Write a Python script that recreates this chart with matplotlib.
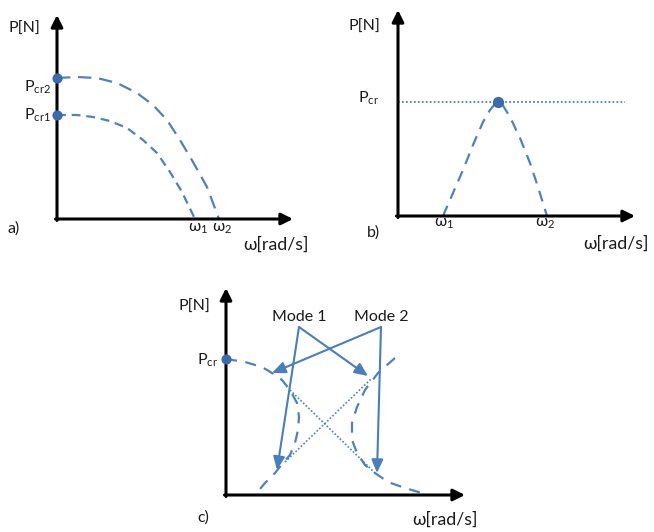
import matplotlib
matplotlib.use('Agg')
import matplotlib.pyplot as plt

plt.rcParams['font.family'] = ['Lato', 'DejaVu Sans']
plt.rcParams['mathtext.default'] = 'regular'

W, H = 654, 532
BLUE = '#4f81bd'
DOT = '#3d6aa8'

# panel a) -- P_cr vs omega for two rotors (units: pixels from axis origin)
a_outer_x = [0, 20, 40, 60, 80, 96, 110, 123, 136, 150, 162]
a_outer_y = [141, 142, 141, 136, 126, 114, 99, 79, 57, 32, 0]
a_inner_x = [0, 20, 36, 53, 70, 86, 100, 113, 125, 138]
a_inner_y = [104, 104, 102, 98, 91, 79, 66, 47, 27, 0]
a_pcr = [141, 104]

# panel b) -- single peak
b_x = [45, 55, 65, 75, 85, 92, 97, 100, 104, 112, 122, 132, 140, 149]
b_y = [0, 23, 46, 71, 94, 106, 112, 114, 112, 99, 78, 53, 29, 0]
b_pcr = 114
b_pcr_x = 100

# panel c) -- mode veering / crossing
c_m1_x = [0, 19, 36, 46, 56, 64, 71, 73, 72, 69, 64, 57, 49, 39, 29]
c_m1_y = [136, 133, 128, 122, 115, 105, 92, 78, 65, 52, 40, 32, 22, 12, 0]
c_m2_x = [169, 152, 139, 131, 126, 126, 131, 139, 149, 162, 179, 196, 200]
c_m2_y = [137, 122, 105, 88, 72, 55, 42, 30, 22, 13, 7, 2, 0]
c_cross1 = ([64, 149], [105, 22])
c_cross2 = ([59, 146], [33, 117])
c_pcr = 136
mode_labels = ['Mode 1', 'Mode 2']
mode_apex = [(73, 168), (155, 168)]
mode_tips = [[(51, 25), (142, 119)], [(46, 122), (151, 22)]]

fig = plt.figure(figsize=(W / 100, H / 100), dpi=100)


def make_axes(ox, oy, w, h):
    ax = fig.add_axes([ox / W, (H - oy) / H, w / W, h / H])
    ax.set_xlim(0, w)
    ax.set_ylim(0, h)
    ax.axis('off')
    kw = dict(arrowstyle='-|>,head_length=0.7,head_width=0.35', color='black',
              lw=2.2, shrinkA=0, shrinkB=0)
    ax.annotate('', xy=(w, 0), xytext=(-1.5, 0), arrowprops=kw, annotation_clip=False)
    ax.annotate('', xy=(0, h), xytext=(0, -1.5), arrowprops=kw, annotation_clip=False)
    return ax


fs = 11.5
txt = dict(fontsize=fs, color='#1a1a1a', clip_on=False)
wtxt = dict(fontsize=12.8, color='#1a1a1a', clip_on=False)

# ---- a)
ax = make_axes(57, 219, 236, 204)
ax.plot(a_outer_x, a_outer_y, color=BLUE, lw=1.6, dashes=(6, 3.5), clip_on=False)
ax.plot(a_inner_x, a_inner_y, color=BLUE, lw=1.6, dashes=(4, 2.6), clip_on=False)
ax.scatter([0, 0], a_pcr, s=40, color=DOT, zorder=5, clip_on=False)
ax.text(-49, 190, 'P[N]', ha='left', va='center', **txt)
ax.text(-6, 127, '$P_{cr2}$', ha='right', va='baseline', **txt)
ax.text(-6, 99, '$P_{cr1}$', ha='right', va='baseline', **txt)
ax.text(-49, -10, 'a)', ha='left', va='center', **txt)
ax.text(141, -10, '$ω_1$', ha='center', va='center', **txt)
ax.text(165, -10, '$ω_2$', ha='center', va='center', **txt)
ax.text(186, -26, 'ω[rad/s]', ha='left', va='center', **wtxt)

# ---- b)
ax = make_axes(398, 216, 237, 206)
ax.plot([0, 227], [b_pcr, b_pcr], color=BLUE, lw=1.3, dashes=(1, 1.2), clip_on=False)
ax.plot(b_x, b_y, color=BLUE, lw=1.6, dashes=(5, 3.5), clip_on=False)
ax.scatter([b_pcr_x], [b_pcr], s=50, color=DOT, zorder=5, clip_on=False)
ax.text(-50, 189, 'P[N]', ha='left', va='center', **txt)
ax.text(-40, 113, '$P_{cr}$', ha='left', va='baseline', **txt)
ax.text(46, -8, '$ω_1$', ha='center', va='center', **txt)
ax.text(147, -8, '$ω_2$', ha='center', va='center', **txt)
ax.text(-31, -17, 'b)', ha='left', va='center', **txt)
ax.text(185, -28, 'ω[rad/s]', ha='left', va='center', **wtxt)

# ---- c)
ax = make_axes(226, 495, 239, 207)
ax.plot(c_m1_x, c_m1_y, color=BLUE, lw=1.6, dashes=(5, 3.8), clip_on=False)
ax.plot(c_m2_x, c_m2_y, color=BLUE, lw=1.6, dashes=(5, 3.8), clip_on=False)
ax.plot(*c_cross1, color=BLUE, lw=1.2, dashes=(1, 1.2), clip_on=False)
ax.plot(*c_cross2, color=BLUE, lw=1.2, dashes=(1, 1.2), clip_on=False)
ax.scatter([0], [c_pcr], s=40, color=DOT, zorder=5, clip_on=False)
akw = dict(arrowstyle='-|>,head_length=0.8,head_width=0.35', color='#4a7ebb',
           lw=1.5, shrinkA=0, shrinkB=0)
for label, apex, tips in zip(mode_labels, mode_apex, mode_tips):
    ax.text(apex[0], apex[1] + 10, label, ha='center', va='center', **txt)
    for tip in tips:
        ax.annotate('', xy=tip, xytext=apex, arrowprops=akw, annotation_clip=False)
ax.text(-48, 188, 'P[N]', ha='left', va='center', **txt)
ax.text(-29, 130, '$P_{cr}$', ha='left', va='baseline', **txt)
ax.text(-29, -23, 'c)', ha='left', va='center', **txt)
ax.text(186, -25, 'ω[rad/s]', ha='left', va='center', **wtxt)

fig.savefig('out.png', dpi=100, facecolor='white')
